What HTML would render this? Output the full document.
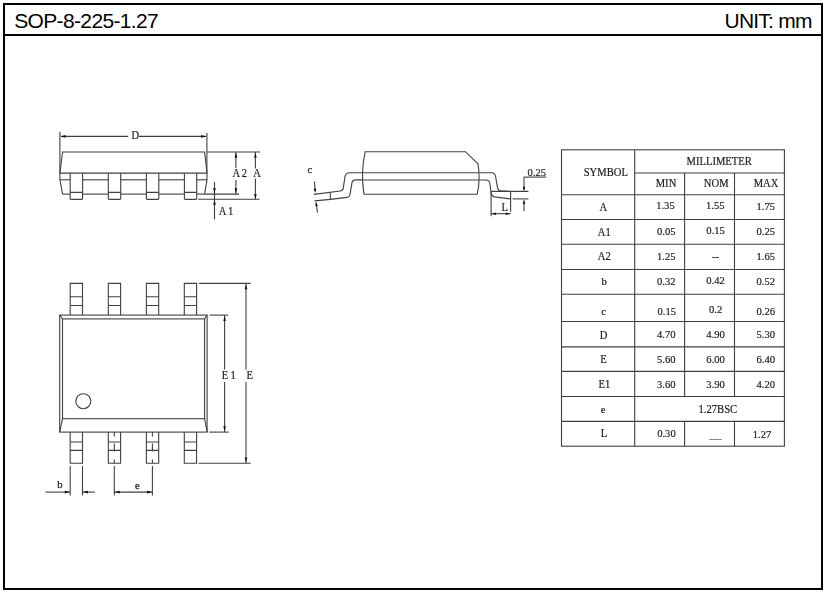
<!DOCTYPE html>
<html lang="en">
<head>
<meta charset="utf-8">
<title>SOP-8-225-1.27</title>
<style>
html,body{margin:0;padding:0;background:#fff;}
body{width:826px;height:593px;overflow:hidden;position:relative;font-family:"Liberation Sans",sans-serif;color:#000;}
.frame{position:absolute;left:3px;top:3px;width:816px;height:583px;border:2px solid #000;}
.hdr{position:absolute;left:0;top:0;width:816px;height:29px;border-bottom:2px solid #000;}
.title{position:absolute;left:9.2px;top:3.7px;font-size:21px;line-height:23px;letter-spacing:-0.64px;white-space:nowrap;}
.unit{position:absolute;right:9.4px;top:3.7px;font-size:21px;line-height:23px;letter-spacing:-0.78px;white-space:nowrap;}
svg{position:absolute;left:0;top:0;will-change:transform;}
svg *{fill:none;stroke:#404040;stroke-width:1.1;}
svg text.s{fill:#1c1c1c;stroke:#1c1c1c;stroke-width:0.18;font-family:"Liberation Serif",serif;font-size:10.6px;}
svg text.b{stroke:#222;stroke-width:0.25;}
svg .a{fill:#111;stroke:none;}
</style>
</head>
<body>
<div class="frame"><div class="hdr"><div class="title">SOP-8-225-1.27</div><div class="unit">UNIT: mm</div></div></div>
<svg width="826" height="593" viewBox="0 0 826 593">
<path d="M62.6,194.1 L59.9,179.8 V173.2 L62.6,152 H204.6 L207,173.2 V179.8 L204.6,194.1"/>
<line x1="59.9" y1="173.1" x2="207" y2="173.1"/>
<line x1="59.9" y1="179.8" x2="70.2" y2="179.8"/>
<line x1="62.6" y1="194.1" x2="70.2" y2="194.1"/>
<path d="M70.2,173.2 V198.6 Q70.2,199.4 71.0,199.4 H81.8 Q82.6,199.4 82.6,198.6 V173.2 M70.2,192.4 H82.6"/>
<line x1="82.6" y1="179.8" x2="108.3" y2="179.8"/>
<line x1="82.6" y1="194.1" x2="108.3" y2="194.1"/>
<path d="M108.3,173.2 V198.6 Q108.3,199.4 109.1,199.4 H119.9 Q120.7,199.4 120.7,198.6 V173.2 M108.3,192.4 H120.7"/>
<line x1="120.7" y1="179.8" x2="146.4" y2="179.8"/>
<line x1="120.7" y1="194.1" x2="146.4" y2="194.1"/>
<path d="M146.4,173.2 V198.6 Q146.4,199.4 147.20000000000002,199.4 H158.0 Q158.8,199.4 158.8,198.6 V173.2 M146.4,192.4 H158.8"/>
<line x1="158.8" y1="179.8" x2="184.4" y2="179.8"/>
<line x1="158.8" y1="194.1" x2="184.4" y2="194.1"/>
<path d="M184.4,173.2 V198.6 Q184.4,199.4 185.20000000000002,199.4 H195.89999999999998 Q196.7,199.4 196.7,198.6 V173.2 M184.4,192.4 H196.7"/>
<line x1="196.7" y1="179.8" x2="207" y2="179.8"/>
<line x1="196.7" y1="194.1" x2="204.6" y2="194.1"/>
<line x1="59.9" y1="131.8" x2="59.9" y2="173.2"/>
<line x1="206.9" y1="132.9" x2="206.9" y2="173.2"/>
<line x1="61" y1="136.4" x2="128.2" y2="136.4"/>
<line x1="139" y1="136.4" x2="206" y2="136.4"/>
<polygon class="a" points="60.6,136.4 65.6,135.1 65.6,137.7"/>
<polygon class="a" points="206.2,136.4 201.2,137.7 201.2,135.1"/>
<text transform="translate(131.4 138.8) scale(1 1.12)" class="s">D</text>
<line x1="206.9" y1="152" x2="260.2" y2="152"/>
<line x1="204.6" y1="194.1" x2="239" y2="194.1"/>
<line x1="198" y1="199.3" x2="259.6" y2="199.3"/>
<line x1="235.9" y1="152" x2="235.9" y2="167.9"/>
<line x1="235.9" y1="180" x2="235.9" y2="194.1"/>
<polygon class="a" points="235.9,152.8 237.2,157.8 234.6,157.8"/>
<polygon class="a" points="235.9,193.3 234.6,188.3 237.2,188.3"/>
<line x1="255.4" y1="152" x2="255.4" y2="168.5"/>
<line x1="255.4" y1="178.5" x2="255.4" y2="199.3"/>
<polygon class="a" points="255.4,152.8 256.7,157.8 254.1,157.8"/>
<polygon class="a" points="255.4,198.9 254.1,193.9 256.7,193.9"/>
<text transform="translate(232.6 177.4) scale(1 1.12)" class="s" style="letter-spacing:1.5px">A2</text>
<text transform="translate(253.2 177.4) scale(1 1.12)" class="s">A</text>
<line x1="214.5" y1="181.8" x2="214.5" y2="219.2"/>
<polygon class="a" points="214.5,193.3 213.2,188.3 215.8,188.3"/>
<polygon class="a" points="214.5,199.7 215.8,204.7 213.2,204.7"/>
<text transform="translate(218.8 215.2) scale(1 1.12)" class="s" style="letter-spacing:1.65px">A1</text>
<path d="M365.2,151.7 H465.4 L478,163.8 Q480.6,179 477.2,194.2 H364 Q360.4,173 365.2,151.7 Z"/>
<path d="M361.9,172.7 H349.8 Q345.8,172.7 345.1,176.2 L343.3,187.8 Q342.8,190.6 340.2,191 L313.8,194.4"/>
<path d="M361.9,179.9 H355.8 Q352.6,179.9 352,182.6 L350,194.6 Q349.4,197.1 346.8,197.4 L330.4,199.4 L314.6,200.9"/>
<line x1="330.3" y1="192.3" x2="330.3" y2="199.4"/>
<line x1="361.9" y1="172.8" x2="479.6" y2="172.8"/>
<line x1="361.9" y1="180" x2="479.6" y2="180"/>
<path d="M479.6,172.8 H491.4 Q494.9,172.8 495.6,176.6 L497.5,187.6 Q498.1,190.6 501,190.9 L510.6,191.5"/>
<path d="M479.6,180 H485.6 Q489.2,180 489.8,183 L491.1,193 Q491.6,196.4 494.6,196.9 L510.6,198.9"/>
<text transform="translate(307.4 172.6) scale(1 1)" class="s b" font-size="11.5">c</text>
<line x1="314.4" y1="181.5" x2="315.2" y2="191.5"/>
<polygon class="a" points="315.3,193.0 313.7,188.6 316.1,188.4"/>
<line x1="317.5" y1="212.6" x2="316.2" y2="203"/>
<polygon class="a" points="316.0,201.6 317.8,205.9 315.4,206.2"/>
<line x1="491.1" y1="191.4" x2="528.4" y2="191.4"/>
<line x1="512.6" y1="198.9" x2="528.4" y2="198.9" stroke-width="1.5"/>
<line x1="491.1" y1="191.4" x2="491.1" y2="216.2"/>
<line x1="510.6" y1="191.4" x2="510.6" y2="211.8"/>
<line x1="491.1" y1="213.7" x2="510.6" y2="213.7"/>
<polygon class="a" points="491.5,213.7 496.0,212.5 496.0,214.9"/>
<polygon class="a" points="510.2,213.7 505.7,214.9 505.7,212.5"/>
<text transform="translate(501.4 210.5) scale(1 1.12)" class="s">L</text>
<text transform="translate(527.6 175.7) scale(1 1.07)" class="s">0.25</text>
<line x1="524" y1="177.1" x2="546.2" y2="177.1"/>
<line x1="524" y1="177.1" x2="524" y2="190"/>
<polygon class="a" points="524.0,191.2 522.8,186.7 525.2,186.7"/>
<line x1="524" y1="211" x2="524" y2="200.5"/>
<polygon class="a" points="524.0,199.4 525.2,203.9 522.8,203.9"/>
<rect x="59.7" y="315.1" width="147.4" height="117.0"/>
<rect x="62.5" y="318.9" width="142.1" height="99.8"/>
<line x1="59.7" y1="315.1" x2="62.5" y2="318.9"/>
<line x1="207.1" y1="315.1" x2="204.6" y2="318.9"/>
<line x1="62.5" y1="418.7" x2="59.7" y2="432.1"/>
<line x1="204.6" y1="418.7" x2="207.1" y2="432.1"/>
<path d="M70.2,315.1 V283.4 H82.5 V315.1 M70.2,296.8 H82.5 M70.2,305.5 H82.5"/>
<path d="M70.2,432.1 V463.3 H82.5 V432.1 M70.2,442 H82.5 M70.2,450.4 H82.5"/>
<path d="M108.3,315.1 V283.4 H120.6 V315.1 M108.3,296.8 H120.6 M108.3,305.5 H120.6"/>
<path d="M108.3,432.1 V463.3 H120.6 V432.1 M108.3,442 H120.6 M108.3,450.4 H120.6"/>
<path d="M146.4,315.1 V283.4 H158.7 V315.1 M146.4,296.8 H158.7 M146.4,305.5 H158.7"/>
<path d="M146.4,432.1 V463.3 H158.7 V432.1 M146.4,442 H158.7 M146.4,450.4 H158.7"/>
<path d="M184.3,315.1 V283.4 H196.6 V315.1 M184.3,296.8 H196.6 M184.3,305.5 H196.6"/>
<path d="M184.3,432.1 V463.3 H196.6 V432.1 M184.3,442 H196.6 M184.3,450.4 H196.6"/>
<path d="M114.3,432.1 V436.5 M114.3,443.6 V451.5 M114.3,459.4 V463.3"/>
<path d="M152.4,432.1 V436.5 M152.4,443.6 V451.5 M152.4,459.4 V463.3"/>
<circle cx="83.3" cy="401.2" r="7.5"/>
<line x1="209.5" y1="315.1" x2="228.2" y2="315.1"/>
<line x1="209.3" y1="432.1" x2="228.7" y2="432.1"/>
<line x1="224.6" y1="315.1" x2="224.6" y2="369.4"/>
<line x1="224.6" y1="382" x2="224.6" y2="432.1"/>
<polygon class="a" points="224.6,315.9 225.9,320.9 223.3,320.9"/>
<polygon class="a" points="224.6,431.3 223.3,426.3 225.9,426.3"/>
<text transform="translate(221.8 379.2) scale(1 1.12)" class="s" style="letter-spacing:2.12px">E1</text>
<line x1="199.1" y1="283.4" x2="250.7" y2="283.4"/>
<line x1="198.5" y1="463.3" x2="250.7" y2="463.3"/>
<line x1="246" y1="283.4" x2="246" y2="369.8"/>
<line x1="246" y1="382" x2="246" y2="463.3"/>
<polygon class="a" points="246.0,284.2 247.3,289.2 244.7,289.2"/>
<polygon class="a" points="246.0,462.5 244.7,457.5 247.3,457.5"/>
<text transform="translate(246.4 379.2) scale(1 1.12)" class="s">E</text>
<line x1="70.2" y1="466" x2="70.2" y2="495.5"/>
<line x1="82.5" y1="466" x2="82.5" y2="495.5"/>
<line x1="45.5" y1="492.1" x2="70.2" y2="492.1"/>
<line x1="82.5" y1="492.1" x2="94.8" y2="492.1"/>
<polygon class="a" points="69.8,492.1 64.8,493.4 64.8,490.8"/>
<polygon class="a" points="82.9,492.1 87.9,490.8 87.9,493.4"/>
<text transform="translate(57.2 488.4) scale(1 1)" class="s b" font-size="11.5">b</text>
<line x1="114.3" y1="466" x2="114.3" y2="495.5"/>
<line x1="152.4" y1="466" x2="152.4" y2="495.5"/>
<line x1="114.3" y1="492.1" x2="152.4" y2="492.1"/>
<polygon class="a" points="114.7,492.1 119.7,490.8 119.7,493.4"/>
<polygon class="a" points="152.0,492.1 147.0,493.4 147.0,490.8"/>
<text transform="translate(135 489.2) scale(1 1)" class="s b" font-size="11.5">e</text>
<rect x="561.5" y="149.8" width="222.9" height="296.4"/>
<line x1="561.5" y1="194.8" x2="784.4" y2="194.8"/>
<line x1="561.5" y1="219.5" x2="784.4" y2="219.5"/>
<line x1="561.5" y1="244.2" x2="784.4" y2="244.2"/>
<line x1="561.5" y1="269.5" x2="784.4" y2="269.5"/>
<line x1="561.5" y1="294.2" x2="784.4" y2="294.2"/>
<line x1="561.5" y1="321.5" x2="784.4" y2="321.5"/>
<line x1="561.5" y1="346.9" x2="784.4" y2="346.9"/>
<line x1="561.5" y1="371.4" x2="784.4" y2="371.4"/>
<line x1="561.5" y1="396.5" x2="784.4" y2="396.5"/>
<line x1="561.5" y1="421.4" x2="784.4" y2="421.4"/>
<line x1="634.7" y1="149.8" x2="634.7" y2="446.2"/>
<line x1="634.7" y1="173" x2="784.4" y2="173"/>
<line x1="684.6" y1="173" x2="684.6" y2="396.5"/>
<line x1="684.6" y1="421.4" x2="684.6" y2="446.2"/>
<line x1="734.5" y1="173" x2="734.5" y2="396.5"/>
<line x1="734.5" y1="421.4" x2="734.5" y2="446.2"/>
<text transform="translate(605.8 175.8) scale(1 1.12)" class="s" text-anchor="middle">SYMBOL</text>
<text transform="translate(719.2 164.9) scale(1 1.12)" class="s" text-anchor="middle">MILLIMETER</text>
<text transform="translate(666 187.2) scale(1 1.12)" class="s" text-anchor="middle">MIN</text>
<text transform="translate(716.2 187.2) scale(1 1.12)" class="s" text-anchor="middle">NOM</text>
<text transform="translate(766 187.2) scale(1 1.12)" class="s" text-anchor="middle">MAX</text>
<text transform="translate(603.3 210.8) scale(1 1.12)" class="s" text-anchor="middle">A</text>
<text transform="translate(665.4 209.2) scale(1 1.07)" class="s" text-anchor="middle">1.35</text>
<text transform="translate(715.2 209.2) scale(1 1.07)" class="s" text-anchor="middle">1.55</text>
<text transform="translate(765.8 210.3) scale(1 1.07)" class="s" text-anchor="middle">1.75</text>
<text transform="translate(604.3 235.5) scale(1 1.12)" class="s" text-anchor="middle">A1</text>
<text transform="translate(666.2 235.2) scale(1 1.07)" class="s" text-anchor="middle">0.05</text>
<text transform="translate(715.6 234.4) scale(1 1.07)" class="s" text-anchor="middle">0.15</text>
<text transform="translate(765.8 235.2) scale(1 1.07)" class="s" text-anchor="middle">0.25</text>
<text transform="translate(604.3 260.4) scale(1 1.12)" class="s" text-anchor="middle">A2</text>
<text transform="translate(666.2 260.4) scale(1 1.07)" class="s" text-anchor="middle">1.25</text>
<text transform="translate(715.6 260.2) scale(1 1.07)" class="s" text-anchor="middle">--</text>
<text transform="translate(765.8 260.4) scale(1 1.07)" class="s" text-anchor="middle">1.65</text>
<text transform="translate(604.1 284.9) scale(1 1.04)" class="s" text-anchor="middle">b</text>
<text transform="translate(666.2 284.9) scale(1 1.07)" class="s" text-anchor="middle">0.32</text>
<text transform="translate(715.6 284) scale(1 1.07)" class="s" text-anchor="middle">0.42</text>
<text transform="translate(765.8 285.2) scale(1 1.07)" class="s" text-anchor="middle">0.52</text>
<text transform="translate(603.5 314.6) scale(1 1.04)" class="s" text-anchor="middle">c</text>
<text transform="translate(666.7 314.6) scale(1 1.07)" class="s" text-anchor="middle">0.15</text>
<text transform="translate(715.6 313) scale(1 1.07)" class="s" text-anchor="middle">0.2</text>
<text transform="translate(765.8 314.6) scale(1 1.07)" class="s" text-anchor="middle">0.26</text>
<text transform="translate(603.5 338.5) scale(1 1.12)" class="s" text-anchor="middle">D</text>
<text transform="translate(666.2 337.7) scale(1 1.07)" class="s" text-anchor="middle">4.70</text>
<text transform="translate(715.6 337.7) scale(1 1.07)" class="s" text-anchor="middle">4.90</text>
<text transform="translate(765.8 338) scale(1 1.07)" class="s" text-anchor="middle">5.30</text>
<text transform="translate(603.5 362.9) scale(1 1.12)" class="s" text-anchor="middle">E</text>
<text transform="translate(666.2 362.9) scale(1 1.07)" class="s" text-anchor="middle">5.60</text>
<text transform="translate(715.6 362.9) scale(1 1.07)" class="s" text-anchor="middle">6.00</text>
<text transform="translate(765.8 362.9) scale(1 1.07)" class="s" text-anchor="middle">6.40</text>
<text transform="translate(604.3 388) scale(1 1.12)" class="s" text-anchor="middle">E1</text>
<text transform="translate(666.2 388) scale(1 1.07)" class="s" text-anchor="middle">3.60</text>
<text transform="translate(715.6 388) scale(1 1.07)" class="s" text-anchor="middle">3.90</text>
<text transform="translate(765.8 388) scale(1 1.07)" class="s" text-anchor="middle">4.20</text>
<text transform="translate(603.2 412.7) scale(1 1.04)" class="s" text-anchor="middle">e</text>
<text transform="translate(717.8 412.7) scale(1 1.12)" class="s" text-anchor="middle">1.27BSC</text>
<text transform="translate(604 437.1) scale(1 1.12)" class="s" text-anchor="middle">L</text>
<text transform="translate(666.4 437.1) scale(1 1.07)" class="s" text-anchor="middle">0.30</text>
<text transform="translate(715.6 437.8) scale(1.16 1.07)" class="s" text-anchor="middle">__</text>
<text transform="translate(762 438.2) scale(1 1.07)" class="s" text-anchor="middle">1.27</text>
</svg>
</body>
</html>
